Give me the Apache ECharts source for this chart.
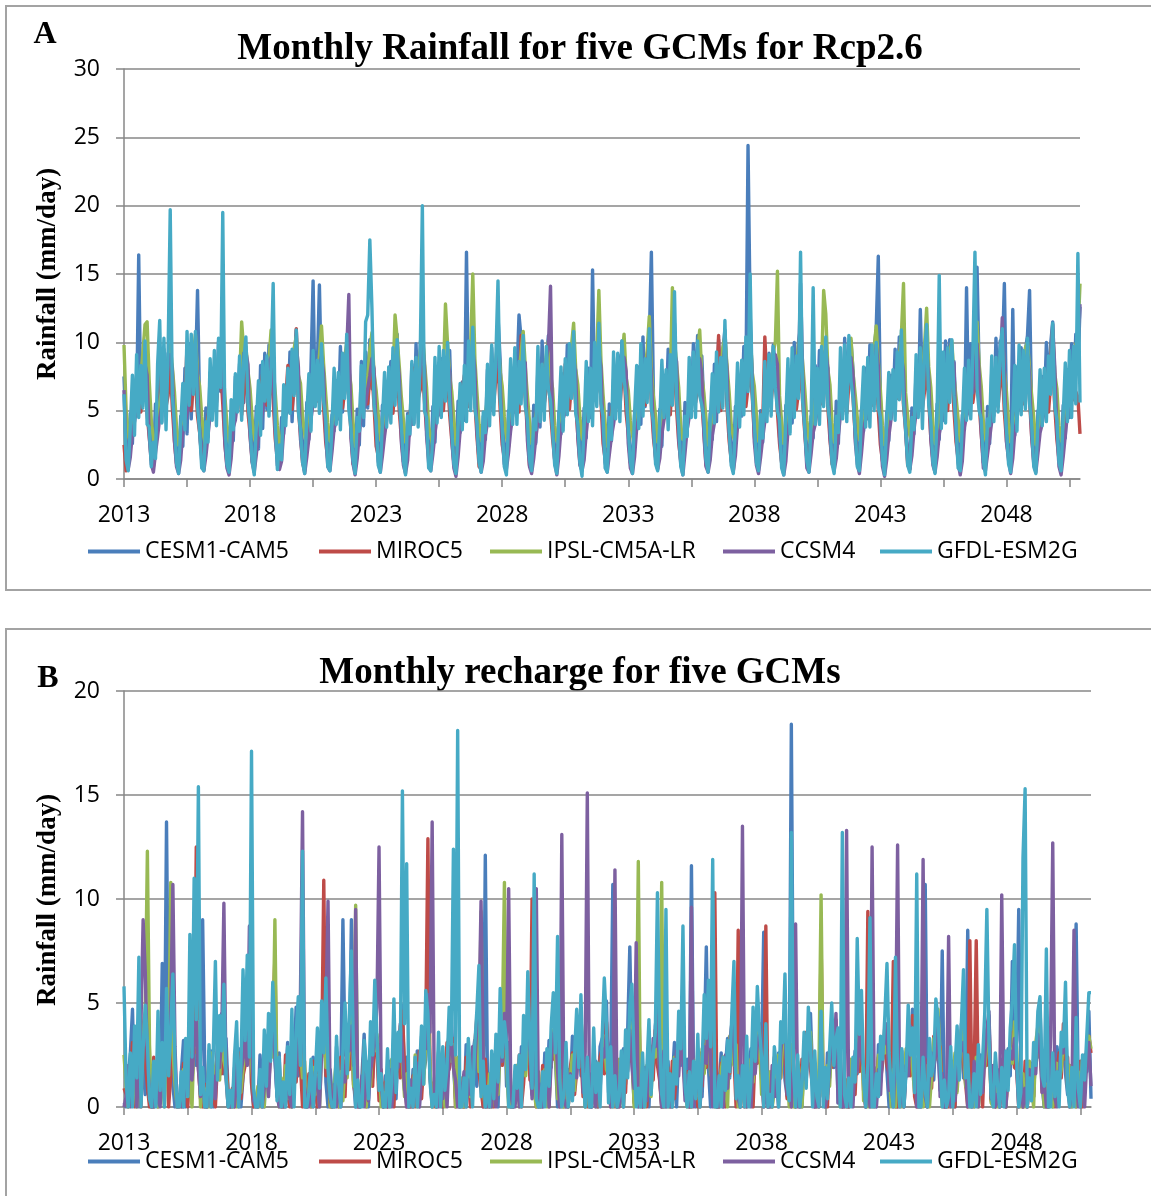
<!DOCTYPE html>
<html><head><meta charset="utf-8">
<script src="https://cdn.jsdelivr.net/npm/echarts@6/dist/echarts.min.js"></script>
<style>html,body{margin:0;padding:0;background:#fff}#c{width:1151px;height:1196px}</style>
</head><body><div id="c"></div>
<script>
// ---- categories (monthly, Jan 2013 .. Dec 2050) ----
const categories = [];
for (let y = 2013; y <= 2050; y++) for (let m = 1; m <= 12; m++) categories.push(y + '-' + (m < 10 ? '0' : '') + m);
const seriesNames = ['CESM1-CAM5', 'MIROC5', 'IPSL-CM5A-LR', 'CCSM4', 'GFDL-ESM2G'];
const rainTicks = [0, 5, 10, 15, 20, 25, 30];
const rechargeTicks = [0, 5, 10, 15, 20];

// ---- Panel A: monthly rainfall (mm/day) ----
const rainCESM1 = [
7.5,3.2,1.5,4.8,2.6,7.2,4.8,16.4,5.4,8.1,6.2,8.5,
4.8,2.1,1.2,5.5,3.6,7.9,4.2,9.5,5.8,9.2,6.7,7.9,
3.9,1.8,0.9,4.6,2.4,8.1,3.3,9.9,4.4,8.8,7.6,13.8,
5.2,2.4,1.1,5.2,3.1,7.8,4.6,8.1,5.3,10.1,6.4,9.2,
4.1,2.0,0.8,4.9,2.8,7.5,5.1,8.4,9.5,5.6,8.9,7.8,
5.4,2.6,1.4,5.3,2.2,8.3,3.7,9.2,5.1,9.8,6.4,8.2,
4.4,1.7,1.0,4.5,3.3,6.7,4.9,9.3,4.2,8.6,10.9,6.5,
5.1,2.3,0.7,5.6,2.9,8.2,14.5,5.4,8.1,14.2,6.8,7.3,
4.6,2.2,1.3,4.7,3.5,7.2,4.4,9.7,4.9,9.1,7.7,8.9,
5.3,2.5,0.9,5.1,2.5,8.6,3.9,9.3,5.2,10.2,6.6,7.7,
4.9,1.9,1.2,5.4,3.7,6.8,5.3,8.6,6.5,9.4,10.6,6.1,
4.3,2.7,0.8,4.8,3.2,8.4,4.1,9.9,5.4,9.9,11.2,7.9,
5.6,2.1,1.1,5.3,2.7,7.9,5.2,8.8,5.7,8.9,8.1,9.4,
4.2,2.4,1.0,5.7,3.4,7.1,4.3,16.6,6.0,9.3,10.8,6.3,
5.0,2.2,0.9,4.6,2.9,8.0,4.7,9.6,6.2,7.5,11.9,8.8,
4.7,1.8,1.3,5.0,3.8,7.4,4.9,7.5,12.0,10.3,7.1,7.4,
5.2,2.5,0.8,5.4,2.6,8.3,3.8,10.1,5.0,8.7,10.5,8.3,
4.5,2.0,1.0,4.9,3.3,7.7,5.0,9.8,6.4,9.6,7.8,8.0,
4.8,2.3,1.2,5.2,3.0,8.1,4.5,15.3,5.9,9.2,10.7,6.6,
5.5,2.6,0.9,5.5,2.8,7.3,5.4,9.1,6.6,10.1,7.4,7.6,
4.0,1.9,1.1,4.7,3.6,8.2,4.0,10.4,5.3,9.0,10.2,16.6,
5.9,2.4,0.8,5.1,2.4,7.6,4.8,9.5,6.0,9.7,11.4,6.2,
4.6,2.1,1.3,5.6,3.2,7.0,5.1,9.9,5.6,10.5,7.3,9.0,
5.1,2.7,1.0,4.8,2.9,8.4,4.2,10.2,6.8,9.4,10.9,7.8,
4.4,2.2,0.9,5.3,3.7,7.5,4.6,9.7,7.1,24.4,12.3,6.4,
5.3,1.8,1.1,5.0,2.7,8.0,5.3,9.2,6.3,9.8,8.4,8.7,
4.9,2.5,0.7,5.4,3.4,7.8,4.1,10.0,5.8,10.0,11.1,7.5,
4.3,2.0,1.2,4.6,3.0,8.3,5.0,9.4,6.5,9.3,8.6,8.1,
5.6,2.4,0.9,5.7,2.6,7.4,4.7,10.3,5.6,9.9,10.1,7.9,
4.7,2.1,1.0,5.1,3.5,8.1,4.4,9.8,6.7,9.5,11.0,16.3,
5.8,2.6,1.1,4.9,2.8,7.6,5.2,9.5,6.1,10.4,7.6,8.3,
4.5,1.9,0.8,5.2,3.3,8.0,4.8,12.4,6.4,9.7,10.3,6.9,
5.0,2.3,1.2,5.5,2.9,7.7,4.3,10.1,6.9,10.2,7.9,8.6,
4.6,2.2,0.9,4.7,3.6,14.0,5.0,9.9,6.2,9.1,15.5,7.8,
5.4,2.5,1.0,5.3,2.6,7.9,4.6,10.3,5.7,10.1,8.8,14.3,
5.1,2.0,1.3,12.4,3.2,8.2,5.1,9.6,6.6,9.4,10.5,13.8,
4.8,2.4,0.8,5.0,3.5,7.5,4.9,10.0,6.1,9.8,11.5,6.5,
4.4,2.1,1.1,5.4,3.0,8.0,4.5,9.9,6.5,10.6,7.7,12.6];
const rainMIROC5 = [
2.5,0.6,1.2,3.1,4.2,5.8,7.5,6.2,4.9,6.6,7.4,4.8,
3.1,1.4,0.9,2.7,4.6,6.3,8.0,6.5,5.3,6.1,8.6,5.2,
2.8,1.1,1.5,2.4,3.9,5.5,9.8,7.1,5.0,6.9,7.2,4.6,
3.4,1.6,0.7,3.0,4.4,6.0,7.2,5.8,5.6,7.3,8.1,5.5,
2.6,1.0,1.1,2.2,4.8,5.7,6.8,6.9,4.7,6.4,8.8,4.9,
3.3,1.3,0.8,2.9,4.1,6.5,7.7,6.1,5.4,7.0,7.6,5.8,
2.9,1.5,1.0,2.6,4.5,5.9,8.3,6.6,5.1,6.7,11.0,5.1,
3.2,1.2,0.6,3.3,4.3,6.2,7.4,6.4,5.7,7.2,8.0,5.3,
2.7,1.4,1.2,2.5,4.7,5.6,6.9,7.0,5.2,6.3,8.4,6.0,
3.5,1.1,0.9,2.8,4.0,6.4,7.9,6.3,5.5,7.5,7.8,5.4,
2.4,1.7,1.3,3.2,4.9,5.4,7.0,6.7,4.8,6.8,8.9,5.0,
3.0,1.3,0.7,2.3,4.4,6.1,8.1,6.0,5.9,6.5,8.2,5.7,
3.6,1.5,1.0,2.9,4.6,5.8,7.3,7.2,5.0,7.1,7.5,4.7,
2.8,1.2,1.4,2.6,4.2,6.6,7.6,6.5,5.3,6.2,9.1,5.6,
3.1,0.9,0.8,3.1,4.8,5.5,6.7,6.8,5.6,7.4,8.5,5.2,
2.5,1.6,1.1,2.4,4.5,6.0,7.8,6.2,4.9,10.5,7.9,5.9,
3.4,1.0,0.9,2.8,4.3,6.3,7.1,6.4,5.5,6.6,8.3,5.0,
2.9,1.4,1.2,3.3,4.7,5.7,8.4,6.9,5.1,7.0,7.7,5.4,
3.2,1.1,0.7,2.5,4.1,6.2,7.5,6.2,5.8,6.4,8.7,5.8,
2.6,1.5,1.3,3.0,4.9,5.9,6.8,7.3,5.2,7.3,8.0,4.8,
3.3,1.2,0.8,2.7,4.4,6.5,7.7,6.1,5.4,6.8,9.0,5.5,
3.0,1.6,1.0,2.3,4.6,5.6,7.2,6.6,4.7,7.6,8.2,5.1,
2.7,1.3,1.1,3.2,4.2,6.1,8.0,7.0,5.6,6.5,7.8,5.7,
3.5,1.0,0.9,2.9,4.8,5.8,6.9,10.5,5.0,7.1,8.6,5.3,
2.8,1.4,0.6,2.6,4.5,6.4,7.4,6.3,5.3,6.7,8.1,6.1,
3.1,1.7,1.2,3.1,4.0,10.4,7.1,6.8,5.7,7.2,7.6,4.9,
2.6,1.2,0.9,2.4,4.7,6.0,7.8,6.4,5.1,6.3,8.8,5.6,
3.4,1.5,1.3,2.8,4.3,6.6,7.3,6.7,5.5,7.4,8.0,5.2,
2.9,1.1,0.8,3.3,4.6,5.7,8.2,6.2,4.8,6.9,8.5,5.9,
3.2,1.6,1.0,2.5,4.8,6.2,7.0,7.1,5.4,6.6,7.7,5.0,
2.5,1.3,1.4,3.0,4.1,5.9,7.6,6.5,5.9,7.0,9.2,5.4,
3.6,1.0,0.7,2.7,4.4,6.3,7.9,6.0,5.2,6.4,8.3,5.8,
3.0,1.4,1.1,3.2,4.9,5.6,6.8,6.9,5.0,7.3,7.9,5.1,
2.7,1.5,0.9,2.6,4.5,6.0,7.7,6.4,5.6,6.8,8.6,5.5,
3.3,1.2,1.2,2.9,4.2,6.4,7.2,6.6,5.3,7.1,8.1,4.9,
2.8,1.6,0.8,3.1,4.7,5.8,8.0,6.2,5.5,6.5,8.9,5.7,
3.1,1.3,1.0,2.4,4.3,6.1,7.4,7.0,4.9,6.9,8.4,5.3,
2.9,1.4,1.3,2.8,4.6,6.2,7.5,6.5,5.8,6.4,6.0,3.3];
const rainIPSL = [
9.8,5.1,3.2,2.6,4.1,5.3,6.2,5.8,7.4,9.3,11.3,11.5,
7.2,4.3,2.9,2.4,4.5,5.6,6.5,6.1,7.1,8.6,9.8,8.2,
6.4,3.8,2.5,2.8,4.0,5.1,5.9,6.7,7.8,9.1,10.6,7.7,
6.8,4.6,3.1,2.3,4.3,5.5,6.3,6.4,7.0,8.9,10.2,8.5,
6.1,4.0,2.7,2.7,4.6,5.2,6.0,7.1,11.5,9.4,9.7,7.9,
6.6,4.4,3.0,2.5,4.2,5.7,6.6,6.3,7.5,8.7,10.9,8.1,
6.3,3.9,2.6,2.9,4.4,5.4,6.1,6.8,7.2,9.6,10.4,7.6,
7.0,4.5,3.3,2.4,4.7,5.0,6.4,6.6,7.7,9.0,11.2,8.4,
6.2,4.1,2.8,2.6,4.0,5.8,6.2,6.9,7.3,8.8,10.0,8.0,
6.9,4.2,2.4,2.8,4.5,5.3,6.7,6.2,7.6,9.5,10.7,7.8,
6.5,4.7,3.0,2.5,4.3,5.6,6.0,6.5,7.1,12.0,10.3,8.3,
6.0,4.3,2.7,2.9,4.6,5.1,6.3,7.0,7.9,9.2,11.0,8.6,
6.7,3.8,3.2,2.3,4.1,5.7,6.6,6.3,7.4,12.8,9.9,7.5,
6.4,4.4,2.5,2.7,4.4,5.4,6.1,6.8,7.7,9.7,15.0,8.8,
6.3,4.0,2.9,2.6,4.7,5.9,6.4,6.4,7.2,8.6,10.5,7.9,
6.8,4.6,3.1,2.4,4.2,5.2,6.0,6.7,7.5,9.3,10.8,8.2,
6.1,4.2,2.6,2.8,4.5,5.5,6.5,6.1,7.8,9.0,10.1,7.7,
6.6,3.9,2.8,2.5,4.0,5.8,6.2,7.2,7.0,9.8,11.4,8.0,
6.9,4.5,3.0,2.7,4.6,5.0,6.3,6.6,7.6,9.1,13.8,8.7,
6.2,4.1,2.4,2.9,4.3,5.6,6.7,6.2,7.3,8.8,10.6,7.4,
6.5,4.3,3.2,2.3,4.8,5.3,6.0,6.9,7.9,9.4,11.9,8.1,
6.0,4.6,2.7,2.6,4.1,5.7,6.4,6.5,7.1,14.0,10.2,8.4,
6.7,3.8,2.9,2.8,4.4,5.1,6.6,6.3,7.7,9.2,10.9,7.6,
6.3,4.4,2.5,2.4,4.7,5.9,6.2,7.0,7.4,9.6,10.4,8.3,
6.4,4.0,3.1,2.7,4.2,5.4,6.5,6.7,7.8,8.7,11.1,7.8,
6.8,4.7,2.8,2.5,4.5,5.6,6.1,6.4,7.2,9.3,10.0,15.2,
6.1,4.2,2.6,2.9,4.3,5.2,6.8,6.8,7.5,9.9,10.7,8.5,
6.6,4.3,3.0,2.4,4.6,5.8,6.3,6.2,7.9,13.8,12.1,8.0,
6.9,4.1,2.7,2.6,4.0,5.5,6.6,7.1,7.0,9.0,10.3,7.7,
6.2,4.5,2.9,2.8,4.8,5.1,6.0,6.6,7.6,9.5,11.2,8.6,
6.5,3.9,2.5,2.3,4.4,5.7,6.4,6.3,7.3,8.9,10.6,14.3,
6.3,4.6,3.2,2.7,4.1,5.4,6.2,6.9,7.7,9.7,12.5,8.2,
6.7,4.0,2.6,2.5,4.7,5.9,6.7,6.5,7.1,9.1,10.1,7.5,
6.0,4.4,2.8,2.9,4.3,5.3,6.1,7.2,7.8,9.4,11.5,8.4,
6.8,4.2,3.0,2.4,4.5,5.6,6.5,6.4,7.4,8.8,10.8,7.9,
6.4,4.1,2.7,2.6,4.2,5.0,6.3,6.8,7.2,9.6,10.0,8.1,
6.1,4.5,2.5,2.8,4.6,5.8,6.0,6.2,7.9,9.0,10.9,7.7,
6.6,3.9,2.9,2.5,4.0,5.5,6.6,6.7,7.5,9.8,10.4,14.3];
const rainCCSM4 = [
6.5,1.8,0.7,1.6,3.4,4.2,5.1,5.9,6.3,7.8,8.4,7.6,
3.2,1.1,0.5,1.9,3.1,4.5,5.4,6.2,6.0,8.3,9.1,8.0,
2.8,0.9,0.4,1.4,3.6,4.1,4.8,5.6,6.7,7.5,9.6,7.2,
3.5,1.3,0.6,1.7,3.2,4.7,5.2,6.4,5.8,8.1,8.7,7.9,
2.6,0.8,0.3,1.5,3.8,4.3,5.6,5.7,6.5,7.9,9.3,8.4,
3.1,1.2,0.5,1.8,3.3,4.0,5.0,6.1,6.2,8.6,8.9,7.4,
3.4,1.0,0.7,1.3,3.5,4.6,5.3,5.8,6.9,7.7,9.8,8.2,
2.9,1.4,0.4,1.6,3.0,4.4,5.5,6.3,6.1,8.4,9.0,7.7,
3.3,0.9,0.6,2.0,3.7,4.2,4.9,6.0,6.4,8.0,9.4,13.5,
3.0,1.1,0.3,1.5,3.4,4.8,5.1,5.5,6.6,7.6,8.8,8.1,
3.6,1.3,0.5,1.7,3.1,4.3,5.7,6.5,5.9,8.2,9.2,7.5,
2.7,1.0,0.4,1.4,3.9,4.0,5.2,6.0,6.8,7.8,10.0,8.3,
3.2,1.2,0.6,1.8,3.3,4.6,4.7,5.7,6.3,8.5,8.6,7.8,
2.9,0.8,0.2,1.6,3.6,4.5,5.4,6.2,6.0,7.7,9.5,8.0,
3.4,1.4,0.5,1.3,3.2,4.1,5.0,5.9,6.6,8.3,9.1,7.3,
3.1,1.1,0.7,1.9,3.5,4.7,5.6,6.4,6.2,7.9,8.7,8.5,
2.8,0.9,0.4,1.5,3.0,4.2,5.3,5.6,6.9,8.7,9.7,14.1,
3.7,1.3,0.3,1.7,3.8,4.4,4.9,6.1,6.1,8.0,9.0,7.6,
3.0,1.0,0.6,1.4,3.4,4.9,5.5,6.3,6.5,7.6,9.3,8.2,
3.3,1.2,0.5,1.8,3.1,4.0,5.1,5.8,6.7,8.4,8.9,7.9,
2.6,0.8,0.4,1.6,3.7,4.6,5.7,6.6,6.0,8.1,10.2,7.4,
3.5,1.4,0.7,1.5,3.3,4.3,5.0,5.5,6.4,7.8,9.2,8.6,
2.9,1.1,0.3,1.9,3.6,4.5,5.4,6.2,6.8,8.2,8.8,7.7,
3.2,0.9,0.5,1.4,3.2,4.1,5.2,6.0,6.1,8.6,9.6,8.0,
3.4,1.3,0.6,1.7,3.9,4.8,5.6,5.7,6.6,7.7,11.3,7.5,
2.7,1.0,0.4,1.6,3.0,4.2,4.8,6.5,6.3,8.3,9.1,8.4,
3.1,1.2,0.3,1.3,3.5,4.6,5.3,5.9,6.9,7.9,14.3,7.8,
3.6,0.8,0.5,1.8,3.4,4.0,5.1,6.1,6.2,8.5,9.4,8.1,
3.0,1.4,0.6,1.5,3.2,4.7,5.5,6.4,6.0,8.0,8.9,7.6,
2.8,1.1,0.4,1.9,3.7,4.4,4.9,5.6,6.7,7.6,9.8,8.3,
3.3,0.9,0.2,1.4,3.1,4.3,5.4,6.3,6.4,8.2,9.0,7.9,
3.5,1.3,0.7,1.7,3.6,4.9,5.2,5.8,6.1,8.7,9.5,7.4,
2.9,1.0,0.5,1.6,3.3,4.1,5.6,6.0,6.8,7.8,8.7,8.5,
3.2,1.2,0.3,1.3,3.8,4.6,5.0,6.5,6.3,8.4,9.9,7.7,
3.4,0.8,0.6,1.8,3.0,4.2,5.3,5.7,6.6,8.1,11.8,8.0,
2.7,1.4,0.4,1.5,3.5,4.5,5.7,6.2,6.2,7.7,9.1,7.6,
3.1,1.1,0.5,1.9,3.4,4.0,5.1,5.9,6.9,8.6,11.3,8.2,
3.6,0.9,0.3,1.6,3.2,4.7,5.5,6.4,6.0,8.0,9.3,12.8];
const rainGFDL = [
6.2,1.4,0.6,3.8,7.6,3.2,9.1,4.5,8.3,5.2,10.1,4.0,
3.8,0.9,2.7,1.5,8.4,11.6,4.1,10.3,3.6,9.4,19.7,6.1,
4.1,1.2,0.4,3.9,7.0,3.6,10.8,5.4,10.6,6.2,10.8,5.3,
3.5,0.8,0.6,4.2,2.7,8.8,4.3,9.4,3.9,10.3,6.7,19.5,
4.3,1.1,0.5,5.8,3.6,7.7,4.9,9.0,4.3,8.6,10.4,5.5,
3.9,1.3,0.3,4.1,7.2,3.2,8.6,5.7,9.0,4.6,8.3,14.3,
4.0,0.7,2.5,1.4,6.9,3.9,8.1,4.8,9.5,6.1,10.9,4.9,
3.6,1.2,0.4,4.7,7.7,3.5,9.4,5.3,8.7,4.8,9.9,5.7,
4.4,0.9,0.6,4.0,8.1,4.0,7.8,3.6,9.2,5.9,10.6,5.1,
3.7,1.4,0.4,4.5,3.5,8.3,4.5,11.5,12.0,17.5,12.5,5.4,
4.2,1.0,0.5,4.3,7.8,3.8,8.2,4.1,9.6,5.4,10.2,5.8,
3.9,1.3,0.3,4.6,3.3,8.6,4.0,8.9,3.8,9.2,20.0,5.0,
4.5,0.8,0.6,3.2,8.9,4.1,9.7,4.5,9.4,5.7,10.0,5.6,
3.6,1.1,0.4,3.8,7.0,3.6,8.3,4.2,10.1,5.0,11.1,5.2,
4.1,1.2,0.5,4.9,3.4,8.4,3.9,9.8,4.7,9.0,14.5,5.9,
3.8,0.9,0.3,4.1,8.8,4.0,9.6,4.0,8.6,5.5,10.5,5.3,
4.3,1.4,0.6,4.4,3.6,9.7,4.2,8.4,4.3,9.7,6.6,5.7,
3.5,1.0,0.4,4.7,8.2,3.5,8.8,4.7,9.9,5.9,10.8,4.8,
4.0,1.2,0.2,4.0,8.6,4.2,8.1,3.9,10.0,5.3,11.4,5.5,
4.6,0.8,0.5,4.5,2.9,9.3,4.4,9.2,4.2,10.1,7.3,6.0,
3.7,1.3,0.4,4.8,8.3,3.7,9.9,4.6,8.8,5.6,11.0,5.1,
4.2,1.1,0.6,4.2,8.7,4.5,8.0,3.6,9.1,5.4,13.7,5.8,
3.9,0.9,0.3,4.6,3.1,8.9,4.5,9.3,4.5,10.1,6.1,5.4,
4.4,1.4,0.5,4.3,7.7,4.1,9.3,4.9,8.9,5.2,11.6,5.6,
3.6,1.0,0.4,4.0,8.5,3.8,8.7,4.7,10.4,6.4,15.0,6.2,
4.0,1.2,0.6,4.7,3.0,8.6,4.2,9.1,4.6,9.7,6.7,5.0,
4.3,0.8,0.3,4.4,8.8,3.3,9.6,4.5,9.0,5.9,16.6,5.7,
3.8,1.3,0.5,4.1,14.0,4.0,8.1,4.0,9.7,5.3,10.4,5.3,
4.1,1.1,0.4,4.6,3.4,9.6,4.4,9.8,4.2,10.5,7.2,5.9,
3.5,0.9,0.6,4.9,8.2,3.8,8.9,3.8,9.8,5.0,10.0,5.2,
4.5,1.4,0.3,4.2,7.8,4.4,8.0,4.3,9.3,5.8,10.9,5.6,
3.7,1.0,0.5,4.5,3.6,9.1,4.5,9.6,3.7,9.2,11.3,5.4,
4.2,1.2,0.4,4.8,14.9,3.7,9.3,4.1,9.6,5.6,10.2,6.1,
3.9,0.8,0.6,4.0,8.1,4.3,8.7,4.4,9.1,16.6,6.6,5.0,
4.4,1.3,0.3,4.4,3.9,9.0,4.2,8.9,4.9,9.4,11.0,5.8,
3.6,1.1,0.5,4.7,8.3,3.5,9.8,4.7,9.4,5.1,10.3,5.5,
4.0,0.9,0.4,4.3,8.0,3.9,8.1,4.2,9.0,6.2,11.4,5.3,
4.3,1.2,0.6,4.6,8.5,4.2,9.4,4.5,9.7,5.5,16.5,5.6];

// ---- Panel B: monthly recharge (mm/day) ----
const rechCESM1 = [
0.2,0.0,1.5,2.6,4.7,0.4,2.1,0.0,3.1,1.8,0.6,2.9,
1.4,0.0,0.0,0.9,2.3,0.5,6.9,1.2,13.7,2.6,4.1,1.0,
0.0,0.3,0.0,1.7,3.2,0.0,0.8,2.4,1.1,3.6,2.0,4.4,
0.6,9.0,1.8,0.0,0.4,2.7,0.0,1.3,3.0,2.2,4.5,1.6,
3.3,0.7,0.0,0.0,1.9,0.5,2.8,0.0,1.4,3.9,2.1,5.2,
1.1,0.0,0.4,0.0,2.5,1.0,0.0,3.4,1.7,2.9,4.0,2.3,
0.5,2.6,0.0,0.2,1.3,3.1,0.6,0.0,2.2,4.8,1.5,3.7,
2.0,0.0,0.0,1.1,0.3,2.4,1.6,0.0,3.3,2.7,5.0,1.2,
0.0,1.8,0.5,0.0,2.9,0.8,1.4,9.0,2.5,3.8,1.9,9.0,
1.3,0.0,0.2,0.0,1.6,3.5,0.9,0.0,2.8,1.4,4.2,2.6,
3.0,0.6,0.0,1.5,0.0,2.2,1.1,3.6,0.4,2.9,1.7,4.9,
0.8,2.4,0.0,0.0,1.8,0.5,2.7,0.0,3.4,1.6,2.3,5.5,
1.7,0.0,0.3,0.0,2.6,1.2,0.0,2.1,1.5,3.9,4.4,2.0,
0.4,1.3,0.0,0.8,0.0,3.0,1.9,0.6,2.4,3.2,1.0,4.1,
2.2,0.0,12.1,1.4,0.0,0.7,2.5,1.2,0.0,3.5,2.8,4.6,
1.0,3.1,0.0,0.0,1.3,2.0,0.4,2.9,1.6,2.3,4.0,1.8,
0.6,1.5,2.3,0.0,0.9,0.0,2.6,1.0,3.2,1.9,3.6,2.4,
0.0,2.7,1.2,0.3,0.0,1.8,0.8,3.4,1.3,2.6,4.3,1.5,
1.9,0.0,0.5,1.6,0.0,0.9,2.2,0.0,2.9,3.3,1.8,5.1,
0.7,2.0,10.7,0.4,0.0,1.5,0.6,2.8,1.1,3.7,7.7,2.1,
0.3,1.6,0.0,2.4,0.0,0.8,1.9,0.0,2.5,1.7,3.9,4.8,
1.5,0.0,0.7,0.0,2.2,0.4,1.3,3.1,0.0,2.8,2.0,4.3,
0.9,2.3,0.0,11.6,1.0,0.0,2.4,1.5,0.5,3.0,7.7,1.9,
0.0,1.7,0.4,0.0,1.1,2.6,0.0,2.0,3.3,1.4,4.1,2.5,
1.2,0.3,0.0,2.0,0.6,0.0,1.7,2.8,1.0,3.4,2.2,4.0,
2.5,8.4,0.9,0.0,0.0,1.4,2.3,0.5,2.6,1.8,3.8,1.3,
0.5,1.0,18.4,2.1,0.0,0.3,1.2,0.0,2.9,2.4,3.1,4.5,
1.6,0.0,0.8,0.0,2.4,1.1,0.0,2.6,1.4,3.2,1.9,3.7,
0.2,2.8,0.0,1.3,0.5,0.0,2.0,1.1,2.7,1.6,4.2,2.3,
1.4,0.0,3.5,0.0,1.6,0.7,0.0,3.0,1.2,2.5,3.6,1.7,
0.0,1.9,0.6,2.2,0.0,1.5,2.7,0.4,1.8,3.3,2.1,4.7,
2.1,0.5,1.4,0.0,0.9,10.7,0.0,1.9,2.4,1.3,3.5,2.8,
0.8,7.5,0.0,0.0,1.7,0.6,2.2,0.0,3.1,2.0,4.0,1.4,
1.3,8.5,2.1,0.5,0.0,1.2,0.3,2.5,1.7,3.6,2.6,4.4,
0.4,1.6,0.0,1.8,0.0,2.3,1.0,0.0,2.8,1.5,7.0,2.0,
3.2,9.5,1.1,0.0,0.8,0.0,2.1,1.4,0.5,3.0,2.4,4.9,
1.0,0.0,2.6,0.3,1.5,0.0,0.7,2.9,1.9,2.2,3.4,1.6,
0.6,2.0,0.0,3.7,8.8,0.9,0.0,1.3,2.5,1.7,4.6,0.4];
const rechMIROC5 = [
0.9,0.6,0.0,1.4,3.1,0.0,1.8,2.5,0.0,3.7,2.2,1.0,
0.0,0.0,2.4,0.5,0.0,1.9,0.7,2.8,3.3,0.0,1.5,4.2,
1.6,0.0,0.0,0.3,2.1,0.8,0.0,1.7,3.0,2.6,12.5,1.9,
0.4,0.0,1.1,0.0,2.7,1.3,0.5,0.0,2.2,3.4,1.6,4.0,
2.3,0.6,0.0,0.9,0.0,1.8,2.6,0.4,1.5,2.0,3.6,6.3,
1.2,0.0,0.5,0.0,1.4,0.0,2.0,3.1,0.9,2.7,4.1,7.2,
0.7,1.5,0.0,0.0,2.5,0.6,0.0,1.9,2.8,1.2,3.3,2.1,
0.0,0.9,0.4,1.6,0.0,2.2,1.0,0.0,3.0,2.4,10.9,1.5,
2.6,0.0,0.0,0.7,1.9,0.0,2.4,1.3,0.5,3.5,1.8,4.3,
1.1,0.5,0.0,0.0,0.8,2.9,0.0,1.6,2.3,1.0,3.8,2.7,
0.3,1.8,0.0,1.2,0.0,0.6,2.1,0.0,2.6,3.2,1.4,4.6,
2.0,0.0,0.7,0.0,1.5,0.0,1.2,2.7,0.4,2.1,3.9,12.9,
1.4,0.3,0.0,0.6,2.2,0.9,0.0,1.5,3.1,1.8,2.5,3.3,
0.0,1.1,0.5,0.0,0.0,2.4,1.6,0.0,2.0,2.9,4.3,1.7,
0.8,0.0,2.3,1.0,0.0,1.3,0.0,2.2,1.4,3.4,2.0,3.9,
2.7,0.4,0.0,0.0,1.7,0.7,2.5,0.0,1.1,2.6,3.6,1.3,
10.0,1.2,0.0,0.4,0.0,2.0,0.8,1.7,0.0,3.1,2.3,4.4,
1.5,0.0,3.5,0.0,1.0,0.0,1.9,2.6,0.6,1.7,3.0,2.5,
0.5,2.1,0.0,0.9,0.0,1.5,0.4,0.0,2.4,2.8,1.6,4.1,
1.9,0.0,0.6,0.0,2.3,0.0,1.4,2.0,0.7,3.3,2.2,3.6,
0.2,1.4,5.8,1.7,0.0,0.8,0.0,1.8,2.9,1.3,3.7,2.0,
1.3,0.0,0.0,0.5,1.9,0.0,2.2,0.4,1.6,2.5,2.7,4.5,
0.6,1.7,0.0,0.0,0.9,1.4,0.0,2.6,1.0,3.0,1.9,3.2,
2.4,0.5,10.3,0.0,0.0,2.1,0.7,0.0,2.5,1.6,3.5,2.4,
0.0,8.5,0.4,1.2,0.0,0.6,1.8,1.1,0.0,2.7,2.1,4.0,
1.7,0.0,8.7,0.0,1.3,0.0,2.4,0.8,1.9,1.4,3.1,2.6,
0.4,1.9,0.0,0.7,0.0,1.6,0.0,2.3,1.2,3.6,2.4,1.8,
1.0,0.0,1.5,0.0,8.0,0.5,1.1,0.0,2.7,1.9,3.3,4.2,
2.2,0.6,0.0,1.4,0.0,0.0,2.0,1.5,0.6,3.1,1.7,3.5,
0.8,0.0,9.4,0.3,2.1,0.0,0.9,2.4,1.3,2.2,3.9,2.0,
1.6,1.2,7.0,0.0,0.0,1.8,0.5,0.0,2.1,2.8,1.5,4.4,
0.5,0.0,0.8,0.0,1.6,2.3,0.0,1.7,0.9,3.4,2.6,3.0,
2.9,0.7,0.0,1.1,0.0,0.4,1.9,0.0,2.3,1.5,3.2,2.2,
1.1,0.0,8.0,0.0,1.5,8.0,0.6,1.4,0.0,2.9,2.0,4.1,
0.3,2.0,0.0,0.6,0.0,1.2,2.5,0.0,1.7,2.3,3.6,1.9,
1.8,0.0,1.0,0.0,2.2,0.0,1.3,2.1,0.5,3.1,2.5,3.8,
0.7,1.3,0.0,0.0,0.9,1.7,0.0,1.8,2.6,1.4,4.0,2.3,
2.4,0.0,0.5,1.5,0.0,0.8,2.2,0.0,1.2,2.8,3.4,2.6];
const rechIPSL = [
2.5,1.0,0.0,0.7,2.2,1.1,0.0,2.8,1.5,3.9,4.6,12.3,
3.0,0.4,0.0,1.3,0.0,2.0,1.4,0.0,3.2,2.1,10.8,2.7,
1.1,0.0,0.6,0.0,1.8,0.5,2.4,1.2,0.0,3.5,2.9,4.1,
0.0,1.5,0.0,0.9,0.0,2.6,0.8,1.9,2.5,1.3,3.8,2.2,
1.7,0.0,0.3,0.0,1.2,0.0,2.1,0.7,1.8,2.9,3.4,4.8,
2.2,0.6,0.0,1.0,0.0,1.6,0.0,2.3,1.1,3.0,2.4,9.0,
0.9,0.0,1.4,0.0,2.0,0.4,1.3,0.0,2.6,1.7,4.0,2.8,
1.4,2.2,0.0,0.5,0.0,1.9,0.6,1.5,0.0,2.8,3.6,1.9,
3.1,0.0,0.0,1.2,2.4,0.0,1.7,0.3,2.2,1.4,3.1,4.4,
1.0,9.7,0.4,0.0,0.8,2.1,0.0,1.8,1.0,3.3,2.7,3.5,
2.6,0.0,0.7,0.0,1.5,0.0,2.3,0.9,1.6,2.5,3.9,2.1,
0.5,1.6,0.0,0.8,0.0,2.5,0.0,1.4,2.9,1.1,3.2,4.6,
1.9,0.0,1.2,0.0,2.7,0.6,1.5,0.0,2.0,3.7,2.2,3.0,
0.0,2.4,0.0,1.4,0.0,1.0,2.6,0.5,1.3,2.4,3.5,1.7,
9.4,0.8,0.0,0.0,1.6,0.0,1.1,2.2,0.6,2.9,3.8,10.8,
2.1,0.0,0.5,0.0,1.3,2.0,0.0,1.6,2.4,1.5,3.0,4.0,
1.3,0.7,0.0,1.7,0.0,0.9,1.8,0.0,2.7,2.0,3.7,2.5,
0.4,1.8,0.0,0.0,2.1,0.0,1.4,2.5,0.8,3.1,2.3,4.3,
2.7,0.0,0.9,0.0,0.6,1.7,0.0,2.1,1.4,2.6,3.4,1.8,
1.5,0.5,0.0,1.1,0.0,2.3,0.7,0.0,2.2,1.8,4.1,3.2,
0.0,2.6,11.8,0.0,1.4,0.0,2.0,1.3,0.5,3.0,2.4,3.9,
2.0,10.8,0.0,0.7,0.0,1.5,0.0,2.4,1.6,2.2,3.6,2.6,
0.8,0.0,1.6,0.0,2.3,0.5,1.2,0.0,2.8,1.6,3.1,4.5,
1.6,1.3,0.0,0.4,0.0,1.8,2.4,0.9,0.0,3.4,2.5,2.0,
3.0,0.0,0.0,1.5,0.7,0.0,1.6,2.3,1.2,2.7,4.2,3.1,
0.6,2.1,0.5,0.0,1.7,0.0,0.8,1.8,2.5,1.4,3.3,4.0,
1.8,0.0,3.0,0.0,0.0,2.2,1.5,0.0,1.9,2.9,2.2,3.6,
1.2,0.9,0.0,1.9,10.2,0.6,0.0,2.0,1.0,3.2,2.8,2.4,
2.4,0.0,0.7,0.0,1.3,0.0,2.3,1.2,2.1,1.7,3.8,4.2,
0.3,1.5,0.0,0.9,0.0,1.9,0.6,2.5,1.4,3.0,2.6,3.3,
1.9,0.0,1.8,0.0,2.6,0.4,0.0,1.7,2.8,2.1,3.5,1.9,
0.7,2.3,0.0,1.3,0.0,1.1,2.0,0.0,1.5,3.3,2.3,4.7,
2.5,0.0,0.4,0.0,1.9,0.0,1.4,2.6,0.7,2.4,3.7,2.9,
1.0,1.7,0.0,0.6,0.0,2.4,0.0,1.3,2.3,1.9,3.0,3.8,
0.2,0.0,2.2,0.0,1.1,1.5,0.5,0.0,2.6,2.8,2.1,4.1,
2.8,0.6,0.0,1.6,0.0,0.8,2.2,1.0,0.0,3.1,3.9,2.5,
1.4,0.0,1.1,0.0,2.4,0.0,1.6,2.1,1.3,1.8,3.2,3.6,
0.9,2.0,0.0,0.5,0.0,1.7,0.9,2.3,1.6,2.6,3.4,2.8];
const rechCCSM4 = [
0.0,0.5,2.0,0.0,1.3,3.2,0.0,1.8,4.1,9.0,6.5,2.3,
0.7,0.0,0.0,1.6,0.3,0.0,2.4,1.1,3.5,2.2,4.7,10.7,
2.9,0.0,0.4,0.0,0.0,1.4,0.6,2.5,1.3,3.0,4.4,1.8,
0.5,1.3,0.0,0.0,2.1,0.0,1.5,0.4,2.8,1.9,3.6,9.8,
1.4,0.0,0.0,0.7,0.0,2.5,0.0,1.6,2.3,3.1,2.0,8.7,
3.4,0.3,0.0,0.0,1.6,0.0,0.9,2.2,0.5,2.7,4.3,2.5,
0.6,0.0,1.2,0.0,0.0,1.9,0.4,0.0,2.4,1.5,3.8,5.2,
14.2,1.0,0.0,0.0,0.8,0.0,1.7,1.0,0.0,2.6,3.3,4.6,
9.9,0.4,0.0,1.1,0.0,1.4,0.0,2.0,1.2,3.5,2.7,3.9,
2.0,9.5,0.0,0.0,1.5,0.0,2.2,0.3,1.7,2.4,3.1,4.8,
12.5,1.1,0.0,0.5,0.0,1.8,0.0,1.4,2.6,1.9,4.0,2.7,
0.9,0.0,0.0,1.3,0.0,0.6,2.1,0.0,1.5,3.2,2.8,5.4,
3.6,13.7,0.5,0.0,0.0,1.2,0.4,2.3,0.0,2.5,3.4,1.9,
1.3,0.0,0.0,0.8,1.7,0.0,1.3,0.6,2.9,1.8,3.9,4.2,
9.9,2.4,0.0,0.0,0.6,0.0,1.9,0.0,1.6,2.4,2.2,4.5,
2.8,10.5,0.6,0.0,0.0,1.5,0.0,1.2,2.0,3.0,4.1,2.6,
0.4,2.2,10.5,0.0,1.1,0.0,0.7,2.4,0.0,2.1,3.5,3.8,
1.8,0.0,13.1,0.4,0.0,0.0,1.6,0.5,2.2,1.4,3.2,4.7,
0.7,2.6,15.1,0.0,0.0,1.3,0.0,1.9,0.8,2.8,2.4,3.6,
2.5,0.0,1.0,11.4,0.0,0.0,1.4,0.0,2.5,1.7,3.7,2.1,
0.9,7.9,0.0,0.6,0.0,1.9,0.3,2.0,1.1,3.3,2.9,4.4,
1.6,0.0,2.7,0.0,1.2,0.0,0.0,1.5,2.7,1.5,3.4,2.3,
0.3,1.5,0.0,9.6,0.0,0.8,1.7,0.0,1.4,2.9,2.1,4.9,
2.2,0.0,1.8,0.0,0.0,1.1,0.0,2.5,0.9,3.1,4.0,2.8,
1.0,0.4,0.0,13.5,0.7,0.0,1.4,0.0,2.3,1.6,3.0,3.5,
2.7,0.0,0.9,0.0,0.0,2.0,0.5,1.3,0.0,2.6,3.7,4.2,
0.6,1.8,0.0,2.3,8.8,0.0,0.0,1.6,2.1,1.3,2.8,3.0,
1.5,0.0,0.0,0.5,2.8,1.4,0.0,0.6,1.8,3.4,2.2,4.5,
0.2,2.5,0.0,0.0,13.3,0.0,1.2,0.0,2.4,1.7,3.6,2.4,
1.9,0.0,1.4,0.0,12.5,0.7,0.0,1.8,0.6,2.9,3.1,4.0,
0.8,1.2,0.0,2.5,12.6,0.0,0.9,0.0,2.0,1.5,3.9,2.7,
2.4,0.0,0.0,1.0,11.9,0.5,0.0,1.4,2.6,1.9,2.5,4.3,
0.5,1.6,0.0,0.0,8.2,0.0,1.5,0.3,1.7,3.2,2.7,3.1,
1.7,0.0,0.8,0.0,2.2,1.0,0.0,2.1,0.7,2.4,3.8,4.6,
0.4,2.0,0.0,0.6,0.0,10.2,1.3,0.0,1.9,2.7,2.3,3.3,
2.1,0.0,1.5,0.0,0.9,0.0,1.8,0.6,2.3,1.6,3.5,2.9,
0.7,1.3,0.0,0.0,3.4,12.7,0.4,0.0,1.5,3.0,2.6,4.1,
1.2,0.0,0.5,8.5,1.9,0.0,0.8,1.5,0.0,2.2,3.1,1.0];
const rechGFDL = [
5.8,1.2,0.0,2.6,0.0,3.9,1.4,7.2,0.0,2.8,4.9,3.1,
0.4,0.0,2.2,0.0,4.6,0.8,3.1,0.0,5.7,1.5,3.8,6.4,
2.1,0.0,0.0,1.7,0.0,3.3,0.5,8.3,2.4,11.0,4.2,15.4,
0.6,1.9,0.0,0.0,3.0,0.0,2.6,7.0,1.3,4.4,2.7,5.9,
1.5,0.0,0.8,0.0,2.5,4.1,0.0,1.9,6.6,3.2,7.3,2.4,
17.1,0.9,0.0,0.0,1.8,0.0,3.7,1.0,4.5,2.2,6.0,3.6,
0.3,2.4,0.0,1.2,0.0,2.9,0.6,4.7,0.0,3.5,5.3,2.0,
12.3,0.0,0.0,0.7,2.3,0.0,1.5,3.8,0.9,5.1,2.6,6.2,
1.8,0.5,0.0,0.0,3.4,1.1,0.0,2.7,5.0,1.6,4.3,7.5,
2.7,0.0,1.3,0.0,0.0,3.2,2.0,0.4,4.1,2.5,6.1,3.4,
0.8,1.6,0.0,0.0,2.8,0.0,1.2,5.2,0.7,3.6,2.2,15.2,
4.0,11.7,0.0,0.9,0.0,2.4,0.0,1.6,3.9,1.1,5.6,4.5,
1.2,0.0,0.6,0.0,3.6,0.0,2.9,0.8,1.9,4.8,3.0,12.4,
2.5,18.1,0.0,0.0,1.4,0.0,3.3,1.7,0.0,2.9,4.6,6.8,
0.5,2.2,0.0,1.0,0.0,2.7,0.4,3.5,1.2,5.7,2.4,4.1,
3.1,0.0,0.0,0.0,2.0,0.9,2.5,0.0,4.4,1.8,6.5,3.0,
0.9,11.2,0.4,0.0,0.0,1.7,0.0,2.8,1.0,3.9,5.5,2.6,
8.2,1.3,0.0,0.6,3.1,0.0,1.5,0.3,2.6,4.7,1.9,5.4,
1.6,0.0,2.4,0.0,0.0,3.8,0.7,2.1,0.0,3.4,6.2,4.0,
0.2,2.9,0.0,1.5,0.0,0.5,2.7,0.0,3.7,1.4,4.9,5.9,
2.3,0.0,0.9,0.0,2.6,0.0,1.8,4.2,0.6,2.5,3.6,10.3,
3.5,0.6,0.0,9.5,0.0,1.6,0.0,2.3,1.1,4.6,2.8,8.7,
1.0,0.0,1.7,0.0,2.2,0.4,3.5,0.0,2.0,5.4,3.3,6.1,
2.9,11.9,0.0,0.0,1.5,0.0,2.4,0.8,3.2,1.7,4.5,7.0,
0.4,1.5,0.0,2.0,0.0,3.4,0.0,1.3,4.8,2.2,5.8,3.7,
2.4,0.0,4.0,0.0,0.6,0.0,2.9,1.9,0.0,4.1,3.1,6.4,
1.1,0.3,13.2,1.8,0.0,2.5,0.0,1.0,3.6,0.9,4.8,2.9,
0.0,2.7,0.5,0.0,4.6,0.0,1.9,0.4,2.8,5.0,2.0,3.3,
3.8,0.0,13.2,0.6,0.0,1.4,0.0,2.4,1.2,8.1,3.5,5.6,
1.3,0.0,2.1,9.1,0.0,0.0,1.6,0.5,3.4,2.3,4.4,6.9,
2.6,0.9,0.0,7.2,1.5,0.0,2.8,0.0,1.7,4.9,2.5,3.8,
0.7,11.2,0.0,0.0,2.4,0.8,0.0,3.3,1.5,2.1,5.2,4.3,
2.0,0.0,1.3,0.0,0.5,2.9,0.0,1.8,3.9,1.3,4.0,6.6,
1.4,2.5,0.0,0.0,1.6,0.0,3.0,0.6,2.3,4.5,9.5,3.2,
0.6,0.0,2.6,1.1,0.0,1.9,0.0,2.7,0.8,3.8,5.1,7.8,
2.2,0.0,0.7,12.0,15.3,0.0,1.4,0.3,3.1,2.0,4.6,5.3,
1.5,1.0,7.6,0.0,0.0,2.6,0.5,1.7,0.0,3.6,2.9,6.0,
0.8,0.0,1.9,0.0,4.3,0.9,0.0,2.5,1.3,3.4,5.5,5.5];

const rainData = [rainCESM1, rainMIROC5, rainIPSL, rainCCSM4, rainGFDL];
const rechData = [rechCESM1, rechMIROC5, rechIPSL, rechCCSM4, rechGFDL];
const colors = ['#4A7EBB', '#BE4B48', '#98B954', '#7D60A0', '#46AAC5'];

const FONT = '"Open Sans", "Liberation Sans", sans-serif';
const SERIF = '"Liberation Serif", "DejaVu Serif", serif';
const GRID = '#878787';

function xAxis(gi) {
  return {
    type: 'category', gridIndex: gi, data: categories, boundaryGap: false,
    axisLine: { show: true, lineStyle: { color: GRID, width: 1.5 } },
    axisTick: { show: true, interval: 29, length: 8, lineStyle: { color: GRID, width: 1.5 } },
    axisLabel: { interval: 59, formatter: v => v.slice(0, 4), fontFamily: FONT, fontSize: 23, color: '#000', margin: 25 },
    splitLine: { show: false }
  };
}
function yAxis(gi, ticks) {
  return {
    type: 'value', gridIndex: gi, min: ticks[0], max: ticks[ticks.length - 1], interval: ticks[1] - ticks[0],
    axisLine: { show: true, lineStyle: { color: GRID, width: 1.5 } },
    axisTick: { show: true, length: 8, lineStyle: { color: GRID, width: 1.5 } },
    axisLabel: { fontFamily: FONT, fontSize: 23, color: '#000', margin: 24 },
    splitLine: { show: true, lineStyle: { color: GRID, width: 1.5 } }
  };
}

const series = [];
[rainData, rechData].forEach((set, gi) => {
  set.forEach((d, i) => {
    series.push({
      name: seriesNames[i], type: 'line', xAxisIndex: gi, yAxisIndex: gi, data: d,
      symbol: 'none', showSymbol: false, color: colors[i],
      lineStyle: { width: 3.4, color: colors[i], join: 'round' }, silent: true
    });
  });
});

const legendLefts = [88, 319, 490, 723, 880];
const legends = [];
[540, 1150].forEach(top => {
  seriesNames.forEach((n, i) => {
    legends.push({
      data: [n], left: legendLefts[i], top: top, padding: 0, itemGap: 0,
      icon: 'rect', itemWidth: 52, itemHeight: 4,
      textStyle: { fontFamily: FONT, fontSize: 23, color: '#000' },
      selectedMode: false
    });
  });
});

const chart = echarts.init(document.getElementById('c'), null, { renderer: 'canvas' });
chart.setOption({
  animation: false,
  backgroundColor: '#fff',
  grid: [
    { left: 124, top: 69, width: 956, height: 410 },
    { left: 124, top: 691, width: 967, height: 416 }
  ],
  xAxis: [xAxis(0), xAxis(1)],
  yAxis: [yAxis(0, rainTicks), yAxis(1, rechargeTicks)],
  legend: legends,
  series: series,
  graphic: [
    { type: 'rect', shape: { x: 6, y: 6, width: 1170, height: 584 }, style: { fill: 'none', stroke: '#a3a3a3', lineWidth: 2 }, z: -1 },
    { type: 'rect', shape: { x: 6, y: 629, width: 1170, height: 620 }, style: { fill: 'none', stroke: '#a3a3a3', lineWidth: 2 }, z: -1 },
    { type: 'text', x: 45, y: 35, style: { text: 'A', font: 'bold 32px ' + SERIF, fill: '#000', align: 'center', verticalAlign: 'middle' } },
    { type: 'text', x: 48, y: 679, style: { text: 'B', font: 'bold 32px ' + SERIF, fill: '#000', align: 'center', verticalAlign: 'middle' } },
    { type: 'text', x: 580, y: 49, style: { text: 'Monthly Rainfall for five GCMs for Rcp2.6', font: 'bold 37px ' + SERIF, fill: '#000', align: 'center', verticalAlign: 'middle' } },
    { type: 'text', x: 580, y: 673, style: { text: 'Monthly recharge for five GCMs', font: 'bold 37px ' + SERIF, fill: '#000', align: 'center', verticalAlign: 'middle' } },
    { type: 'text', x: 48, y: 274, rotation: Math.PI / 2, style: { text: 'Rainfall (mm/day)', font: 'bold 27px ' + SERIF, fill: '#000', align: 'center', verticalAlign: 'middle' } },
    { type: 'text', x: 48, y: 900, rotation: Math.PI / 2, style: { text: 'Rainfall (mm/day)', font: 'bold 27px ' + SERIF, fill: '#000', align: 'center', verticalAlign: 'middle' } }
  ]
});
</script>
</body></html>
